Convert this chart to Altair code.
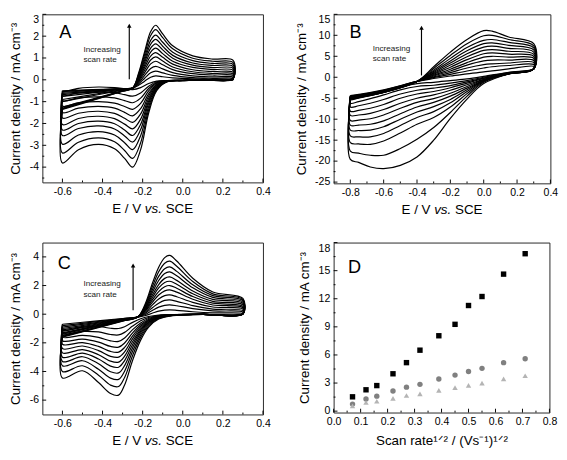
import altair as alt
import pandas as pd

FONT = "Liberation Sans"

# ---------------- Panel A (cyclic voltammograms) ----------------
A_FWD_E = [-0.6, -0.45, -0.3, -0.25, -0.22, -0.19, -0.16, -0.135, -0.1, -0.05, 0.05, 0.15, 0.25]
A_FWD_I = [
    [-0.50, -0.45, -0.40, -0.38, -0.25, -0.06, 0.12, 0.18, 0.14, 0.09, 0.04, 0.025, 0.02],
    [-0.53, -0.47, -0.40, -0.38, -0.19, 0.07, 0.32, 0.40, 0.32, 0.20, 0.10, 0.07, 0.06],
    [-0.57, -0.49, -0.41, -0.38, -0.14, 0.20, 0.52, 0.62, 0.50, 0.33, 0.18, 0.135, 0.12],
    [-0.62, -0.52, -0.41, -0.38, -0.085, 0.33, 0.73, 0.85, 0.69, 0.47, 0.28, 0.22, 0.20],
    [-0.68, -0.55, -0.42, -0.38, -0.04, 0.45, 0.91, 1.05, 0.86, 0.59, 0.37, 0.29, 0.27],
    [-0.76, -0.60, -0.43, -0.38, 0.01, 0.57, 1.09, 1.25, 1.03, 0.72, 0.46, 0.38, 0.35],
    [-0.90, -0.68, -0.45, -0.38, 0.06, 0.68, 1.27, 1.45, 1.20, 0.85, 0.57, 0.47, 0.44],
    [-1.00, -0.73, -0.47, -0.38, 0.11, 0.80, 1.45, 1.65, 1.37, 0.99, 0.67, 0.56, 0.53],
    [-1.25, -0.88, -0.50, -0.38, 0.16, 0.91, 1.63, 1.85, 1.54, 1.12, 0.77, 0.66, 0.62],
    [-1.30, -0.90, -0.51, -0.38, 0.20, 1.03, 1.81, 2.05, 1.72, 1.26, 0.88, 0.75, 0.71],
    [-1.33, -0.92, -0.52, -0.38, 0.26, 1.17, 2.03, 2.30, 1.93, 1.42, 0.99, 0.85, 0.80],
    [-1.36, -0.94, -0.52, -0.38, 0.31, 1.29, 2.21, 2.50, 2.10, 1.56, 1.10, 0.95, 0.90],
]
A_REV_E = [0.25, 0.1, 0.0, -0.08, -0.13, -0.17, -0.21, -0.25, -0.29, -0.34, -0.42, -0.52, -0.6]
A_REV_I = [
    [0.00, -0.01, -0.02, -0.03, -0.06, -0.17, -0.36, -0.45, -0.41, -0.36, -0.33, -0.39, -0.55],
    [0.00, -0.01, -0.02, -0.03, -0.09, -0.29, -0.60, -0.75, -0.68, -0.59, -0.56, -0.60, -0.72],
    [0.01, -0.01, -0.02, -0.04, -0.13, -0.40, -0.84, -1.05, -0.95, -0.83, -0.78, -0.83, -0.95],
    [0.02, 0.00, -0.02, -0.05, -0.17, -0.51, -1.08, -1.35, -1.22, -1.07, -1.00, -1.06, -1.20],
    [0.03, 0.00, -0.03, -0.05, -0.21, -0.63, -1.32, -1.65, -1.49, -1.30, -1.22, -1.30, -1.50],
    [0.03, 0.00, -0.03, -0.06, -0.24, -0.74, -1.56, -1.95, -1.76, -1.54, -1.44, -1.53, -1.75],
    [0.04, 0.01, -0.03, -0.06, -0.28, -0.86, -1.80, -2.25, -2.03, -1.78, -1.67, -1.77, -2.05],
    [0.05, 0.01, -0.03, -0.07, -0.32, -0.97, -2.04, -2.55, -2.30, -2.01, -1.89, -2.00, -2.30],
    [0.05, 0.01, -0.04, -0.08, -0.36, -1.08, -2.28, -2.85, -2.57, -2.25, -2.11, -2.23, -2.55],
    [0.06, 0.02, -0.04, -0.08, -0.40, -1.22, -2.56, -3.20, -2.88, -2.53, -2.37, -2.53, -2.95],
    [0.07, 0.02, -0.04, -0.09, -0.45, -1.37, -2.88, -3.60, -3.24, -2.84, -2.66, -2.86, -3.35],
    [0.08, 0.03, -0.02, -0.10, -0.50, -1.52, -3.20, -4.00, -3.60, -3.16, -2.96, -3.20, -3.81],
]

# ---------------- Panel B ----------------
B_FWD_E = [-0.8, -0.6, -0.4, -0.3, -0.2, -0.1, 0.0, 0.05, 0.15, 0.3]
B_FWD_I = [
    [-4.4, -3.0, -1.0, -0.3, 0.3, 0.8, 1.3, 1.5, 2.0, 2.6],
    [-4.5, -3.1, -1.0, -0.1, 0.7, 1.5, 2.2, 2.5, 2.8, 3.0],
    [-4.6, -3.2, -1.0, 0.1, 1.1, 2.2, 3.0, 3.2, 3.4, 3.5],
    [-4.7, -3.3, -1.0, 0.3, 1.5, 2.9, 3.9, 4.1, 4.1, 4.0],
    [-4.8, -3.4, -1.0, 0.5, 1.9, 3.5, 4.8, 5.0, 4.8, 4.5],
    [-4.9, -3.4, -1.0, 0.7, 2.4, 4.2, 5.6, 5.8, 5.5, 5.0],
    [-5.0, -3.5, -1.0, 0.9, 2.9, 4.9, 6.4, 6.6, 6.2, 5.5],
    [-5.1, -3.5, -1.0, 1.1, 3.4, 5.6, 7.2, 7.4, 6.9, 6.0],
    [-5.2, -3.6, -1.0, 1.4, 3.9, 6.3, 8.0, 8.2, 7.6, 6.5],
    [-5.3, -3.6, -1.0, 1.7, 4.5, 7.1, 8.8, 9.0, 8.3, 7.0],
    [-5.1, -3.6, -1.0, 2.1, 5.2, 8.0, 9.9, 10.0, 9.0, 7.5],
    [-4.9, -3.6, -1.0, 2.5, 6.0, 9.0, 11.1, 11.0, 9.6, 8.0],
]
B_REV_E = [0.3, 0.15, 0.0, -0.1, -0.2, -0.3, -0.4, -0.5, -0.6, -0.68, -0.75, -0.8]
B_REV_I = [
    [2.0, 1.2, 0.2, -0.4, -0.8, -1.2, -1.5, -2.3, -3.3, -4.2, -4.9, -5.4],
    [2.0, 1.1, 0.0, -0.8, -1.4, -1.9, -2.2, -3.0, -4.2, -5.1, -5.8, -6.2],
    [2.0, 1.0, -0.2, -1.1, -2.0, -2.6, -3.1, -4.0, -5.3, -6.2, -6.8, -7.1],
    [2.0, 1.0, -0.3, -1.4, -2.5, -3.4, -4.0, -5.0, -6.5, -7.4, -7.9, -8.1],
    [2.0, 0.9, -0.5, -1.8, -3.1, -4.2, -5.0, -6.2, -7.7, -8.6, -9.0, -9.1],
    [2.0, 0.9, -0.6, -2.2, -3.8, -5.1, -6.0, -7.4, -9.0, -9.9, -10.2, -10.3],
    [2.0, 0.9, -0.7, -2.6, -4.5, -6.0, -7.1, -8.7, -10.4, -11.2, -11.4, -11.4],
    [2.0, 0.8, -0.8, -3.0, -5.3, -7.0, -8.3, -10.0, -11.8, -12.6, -12.7, -12.6],
    [2.0, 0.8, -0.9, -3.4, -6.1, -8.2, -9.6, -11.5, -13.4, -14.2, -14.2, -14.0],
    [2.0, 0.8, -1.0, -3.9, -7.1, -9.6, -11.2, -13.3, -15.2, -16.0, -15.9, -15.6],
    [2.0, 0.8, -1.2, -4.5, -8.4, -12.0, -14.8, -17.0, -18.6, -18.6, -18.1, -17.6],
    [2.0, 0.8, -1.5, -5.2, -9.8, -15.0, -19.0, -21.0, -21.8, -21.4, -20.3, -19.6],
]

# ---------------- Panel C ----------------
C_FWD_E = [-0.6, -0.45, -0.3, -0.225, -0.19, -0.15, -0.12, -0.09, -0.065, -0.03, 0.05, 0.15, 0.3]
C_FWD_I = [
    [-0.70, -0.50, -0.30, -0.20, -0.11, 0.08, 0.21, 0.28, 0.30, 0.27, 0.17, 0.09, 0.05],
    [-0.80, -0.56, -0.32, -0.20, -0.04, 0.28, 0.49, 0.62, 0.65, 0.59, 0.39, 0.23, 0.15],
    [-0.90, -0.62, -0.34, -0.20, 0.03, 0.47, 0.77, 0.96, 1.00, 0.90, 0.60, 0.36, 0.25],
    [-1.00, -0.68, -0.36, -0.20, 0.09, 0.67, 1.06, 1.30, 1.35, 1.22, 0.82, 0.50, 0.35],
    [-1.10, -0.74, -0.38, -0.20, 0.16, 0.86, 1.34, 1.63, 1.70, 1.54, 1.04, 0.64, 0.45],
    [-1.20, -0.80, -0.40, -0.20, 0.22, 1.03, 1.58, 1.92, 2.00, 1.81, 1.23, 0.77, 0.55],
    [-1.30, -0.86, -0.42, -0.20, 0.28, 1.20, 1.83, 2.21, 2.30, 2.09, 1.43, 0.90, 0.65],
    [-1.35, -0.89, -0.43, -0.20, 0.33, 1.37, 2.07, 2.50, 2.60, 2.36, 1.62, 1.03, 0.75],
    [-1.40, -0.92, -0.44, -0.20, 0.40, 1.56, 2.35, 2.84, 2.95, 2.68, 1.84, 1.17, 0.85],
    [-1.50, -0.98, -0.46, -0.20, 0.47, 1.76, 2.64, 3.18, 3.30, 2.99, 2.05, 1.30, 0.95],
    [-1.55, -1.01, -0.47, -0.20, 0.54, 1.98, 2.96, 3.56, 3.70, 3.35, 2.28, 1.42, 1.02],
    [-1.60, -1.04, -0.48, -0.20, 0.62, 2.21, 3.28, 3.95, 4.10, 3.71, 2.51, 1.55, 1.10],
]
C_REV_E = [0.3, 0.1, -0.05, -0.12, -0.17, -0.21, -0.25, -0.29, -0.32, -0.36, -0.42, -0.5, -0.6]
C_REV_I = [
    [0.00, -0.01, -0.02, -0.06, -0.16, -0.32, -0.57, -0.88, -1.00, -0.98, -0.86, -0.90, -1.10],
    [0.00, -0.01, -0.03, -0.09, -0.23, -0.46, -0.83, -1.27, -1.45, -1.42, -1.24, -1.20, -1.35],
    [0.01, -0.01, -0.03, -0.11, -0.30, -0.61, -1.08, -1.66, -1.90, -1.86, -1.62, -1.48, -1.60],
    [0.01, -0.01, -0.04, -0.14, -0.37, -0.74, -1.31, -2.01, -2.30, -2.25, -1.95, -1.74, -1.85],
    [0.02, -0.01, -0.05, -0.16, -0.42, -0.85, -1.51, -2.32, -2.65, -2.60, -2.25, -1.98, -2.10],
    [0.02, -0.01, -0.05, -0.18, -0.48, -0.96, -1.71, -2.63, -3.00, -2.94, -2.54, -2.22, -2.40],
    [0.03, -0.01, -0.06, -0.20, -0.54, -1.07, -1.91, -2.93, -3.35, -3.28, -2.83, -2.47, -2.70],
    [0.03, -0.01, -0.07, -0.22, -0.59, -1.18, -2.11, -3.24, -3.70, -3.63, -3.13, -2.72, -3.00],
    [0.04, -0.01, -0.07, -0.25, -0.66, -1.31, -2.34, -3.59, -4.10, -4.02, -3.46, -2.97, -3.30],
    [0.04, -0.01, -0.08, -0.27, -0.73, -1.46, -2.59, -3.98, -4.55, -4.46, -3.84, -3.25, -3.60],
    [0.05, -0.01, -0.09, -0.30, -0.81, -1.62, -2.88, -4.42, -5.05, -4.95, -4.26, -3.60, -4.00],
    [0.05, -0.01, -0.10, -0.34, -0.90, -1.81, -3.22, -4.94, -5.65, -5.54, -4.77, -3.95, -4.45],
]

# ---------------- Panel D (peak current vs sqrt scan rate) ----------------
D_X = [0.07, 0.12, 0.16, 0.22, 0.27, 0.32, 0.39, 0.45, 0.50, 0.55, 0.63, 0.71]
D_SQUARES = [1.53, 2.28, 2.73, 3.99, 5.18, 6.51, 8.05, 9.27, 11.28, 12.24, 14.63, 16.81]
D_CIRCLES = [0.75, 1.30, 1.60, 2.15, 2.56, 2.86, 3.44, 3.85, 4.23, 4.57, 5.18, 5.59]
D_TRIANGLES = [0.55, 0.92, 1.06, 1.36, 1.67, 1.84, 2.22, 2.52, 2.76, 3.00, 3.44, 3.78]

# ---------------- tick values ----------------
AC_X_MAJOR = [-0.6, -0.4, -0.2, 0.0, 0.2, 0.4]
AC_X_MINOR = [-0.5, -0.3, -0.1, 0.1, 0.3]
A_Y_MAJOR = [3, 2, 1, 0, -1, -2, -3, -4]
A_Y_MINOR = [2.5, 1.5, 0.5, -0.5, -1.5, -2.5, -3.5, -4.5]
B_X_MAJOR = [-0.8, -0.6, -0.4, -0.2, 0.0, 0.2, 0.4]
B_X_MINOR = [-0.7, -0.5, -0.3, -0.1, 0.1, 0.3]
B_Y_MAJOR = [15, 10, 5, 0, -5, -10, -15, -20, -25]
B_Y_MINOR = [12.5, 7.5, 2.5, -2.5, -7.5, -12.5, -17.5, -22.5]
C_Y_MAJOR = [4, 2, 0, -2, -4, -6]
C_Y_MINOR = [3, 1, -1, -3, -5]
D_X_MAJOR = [0.0, 0.1, 0.2, 0.3, 0.4, 0.5, 0.6, 0.7, 0.8]
D_X_MINOR = [0.05, 0.15, 0.25, 0.35, 0.45, 0.55, 0.65, 0.75]
D_Y_MAJOR = [0, 3, 6, 9, 12, 15, 18]
D_Y_MINOR = [1.5, 4.5, 7.5, 10.5, 13.5, 16.5]

Y_TITLE = "Current density / mA cm\u207b\u00b3"
E_TITLE_PARTS = ["E / V", "vs.", "SCE"]
D_TITLE = "Scan rate\u00b9\u141f\u00b2 / (Vs\u207b\u00b9)\u00b9\u141f\u00b2"


def cv_df(fe, fi, re, ri):
    rows = []
    for k in range(len(fi)):
        pts = list(zip(fe, fi[k])) + list(zip(re, ri[k])) + [(fe[0], fi[k][0])]
        for j, (e, i) in enumerate(pts):
            rows.append({"curve": k, "order": j, "E": e, "I": i})
    return pd.DataFrame(rows)


def make_axis(values, fmt, title, flush=False):
    return alt.Axis(
        values=values,
        labelExpr="replace(format(datum.value, '" + fmt + "'), '\u2212', '-')",
        ticks=False, domain=False, grid=False,
        labelFlush=flush, labelOverlap=False, labelPadding=4, titlePadding=7,
        labelFont=FONT, labelFontSize=11, labelColor="#000",
        titleFont=FONT, titleFontSize=14, titleFontWeight="normal", titleColor="#000",
        title=title,
    )


def tick_layers(xs, ys, xax, yax, xmaj, xmin, ymaj, ymin, H):
    out = []
    for vals, L in ((xmaj, 4), (xmin, 2)):
        out.append(alt.Chart(pd.DataFrame({"v": vals})).mark_rule(color="#000", strokeWidth=1).encode(
            x=alt.X("v:Q", scale=xs, axis=xax), y=alt.value(H), y2=alt.value(H - L)))
    for vals, L in ((ymaj, 4), (ymin, 2)):
        out.append(alt.Chart(pd.DataFrame({"v": vals})).mark_rule(color="#000", strokeWidth=1).encode(
            y=alt.Y("v:Q", scale=ys, axis=yax), x=alt.value(0), x2=alt.value(L)))
    return out


def e_title(W, H):
    # "E / V vs. SCE" with italic "vs."
    x0 = W / 2 - 42.4
    offs = [0, 34.2, 56.0]
    styles = ["normal", "italic", "normal"]
    out = []
    for part, dx, st in zip(E_TITLE_PARTS, offs, styles):
        out.append(alt.Chart(pd.DataFrame({"t": [part]})).mark_text(
            font=FONT, fontSize=14, fontStyle=st, align="left", baseline="middle", color="#000"
        ).encode(text="t:N", x=alt.value(x0 + dx), y=alt.value(H + 28)))
    return out


def letter(t, x, y):
    return alt.Chart(pd.DataFrame({"t": [t]})).mark_text(
        font=FONT, fontSize=19, align="center", baseline="middle", color="#000"
    ).encode(text="t:N", x=alt.value(x), y=alt.value(y))


def arrow_note(tx, ty, ax, ay0, ay1):
    note = alt.Chart(pd.DataFrame({"t": ["Increasing\nscan rate"]})).mark_text(
        font=FONT, fontSize=8.5, align="left", baseline="middle", lineBreak="\n",
        lineHeight=11, color="#222"
    ).encode(text="t:N", x=alt.value(tx), y=alt.value(ty))
    shaft = alt.Chart(pd.DataFrame({"t": [0]})).mark_rule(color="#000", strokeWidth=1.2).encode(
        x=alt.value(ax), y=alt.value(ay0), y2=alt.value(ay1 + 3))
    head = alt.Chart(pd.DataFrame({"t": [0]})).mark_point(
        shape="triangle-up", filled=True, size=22, color="#000", opacity=1
    ).encode(x=alt.value(ax), y=alt.value(ay1 + 3))
    return [note, shaft, head]


def cv_panel(df, xdom, ydom, xmaj, xmin, ymaj, ymin, W, H, let, lpos, note):
    xs = alt.Scale(domain=xdom, nice=False, zero=False)
    ys = alt.Scale(domain=ydom, nice=False, zero=False)
    xax = make_axis(xmaj, ".1f", None)
    yax = make_axis(ymaj, "d", Y_TITLE, flush=True)
    lines = alt.Chart(df).mark_line(color="#000", strokeWidth=1.25, interpolate="catmull-rom").encode(
        x=alt.X("E:Q", scale=xs, axis=xax),
        y=alt.Y("I:Q", scale=ys, axis=yax),
        detail="curve:N", order="order:Q",
    )
    layers = [lines] + tick_layers(xs, ys, xax, yax, xmaj, xmin, ymaj, ymin, H)
    layers += e_title(W, H)
    layers.append(letter(let, *lpos))
    layers += arrow_note(*note)
    return alt.layer(*layers).properties(width=W, height=H)


A_H, B_H, C_H, D_H = 176, 177, 180, 178
panel_a = cv_panel(cv_df(A_FWD_E, A_FWD_I, A_REV_E, A_REV_I), [-0.7, 0.4], [-4.7, 3],
                   AC_X_MAJOR, AC_X_MINOR, A_Y_MAJOR, A_Y_MINOR, 231, A_H,
                   "A", (24, 19), (43, 36, 91, 68, 9))
panel_b = cv_panel(cv_df(B_FWD_E, B_FWD_I, B_REV_E, B_REV_I), [-0.9, 0.4], [-25.3, 15],
                   B_X_MAJOR, B_X_MINOR, B_Y_MAJOR, B_Y_MINOR, 227, B_H,
                   "B", (23, 19), (41, 35, 92, 64, 11))
panel_c = cv_panel(cv_df(C_FWD_E, C_FWD_I, C_REV_E, C_REV_I), [-0.7, 0.4], [-7, 5],
                   AC_X_MAJOR, AC_X_MINOR, C_Y_MAJOR, C_Y_MINOR, 231, C_H,
                   "C", (23, 22), (43, 43, 95, 71, 21))

# Panel D
d_df = pd.DataFrame({
    "x": D_X * 3,
    "y": D_SQUARES + D_CIRCLES + D_TRIANGLES,
    "s": ["sq"] * len(D_X) + ["ci"] * len(D_X) + ["tr"] * len(D_X),
})
dxs = alt.Scale(domain=[0, 0.8], nice=False, zero=False)
dys = alt.Scale(domain=[-0.15, 18], nice=False, zero=False)
dxax = make_axis(D_X_MAJOR, ".1f", D_TITLE)
dyax = make_axis(D_Y_MAJOR, "d", Y_TITLE, flush=True)
d_points = alt.Chart(d_df).mark_point(filled=True, opacity=1, size=32).encode(
    x=alt.X("x:Q", scale=dxs, axis=dxax),
    y=alt.Y("y:Q", scale=dys, axis=dyax),
    shape=alt.Shape("s:N", scale=alt.Scale(domain=["sq", "ci", "tr"],
                                           range=["square", "circle", "triangle-up"]), legend=None),
    color=alt.Color("s:N", scale=alt.Scale(domain=["sq", "ci", "tr"],
                                           range=["#000000", "#808080", "#b4b4b4"]), legend=None),
)
panel_d = alt.layer(
    d_points,
    *tick_layers(dxs, dys, dxax, dyax, D_X_MAJOR, D_X_MINOR, D_Y_MAJOR, D_Y_MINOR, D_H),
    letter("D", 22, 26),
).properties(width=226, height=D_H)

chart = alt.concat(panel_a, panel_b, panel_c, panel_d, columns=2,
                   spacing={"row": 25, "column": 23}).properties(
    padding={"left": 0, "top": -5, "right": 0, "bottom": 0}, background="white"
).configure_view(stroke="#222", strokeWidth=1)

chart.save("out.html", embed_options={"renderer": "svg", "actions": False})
